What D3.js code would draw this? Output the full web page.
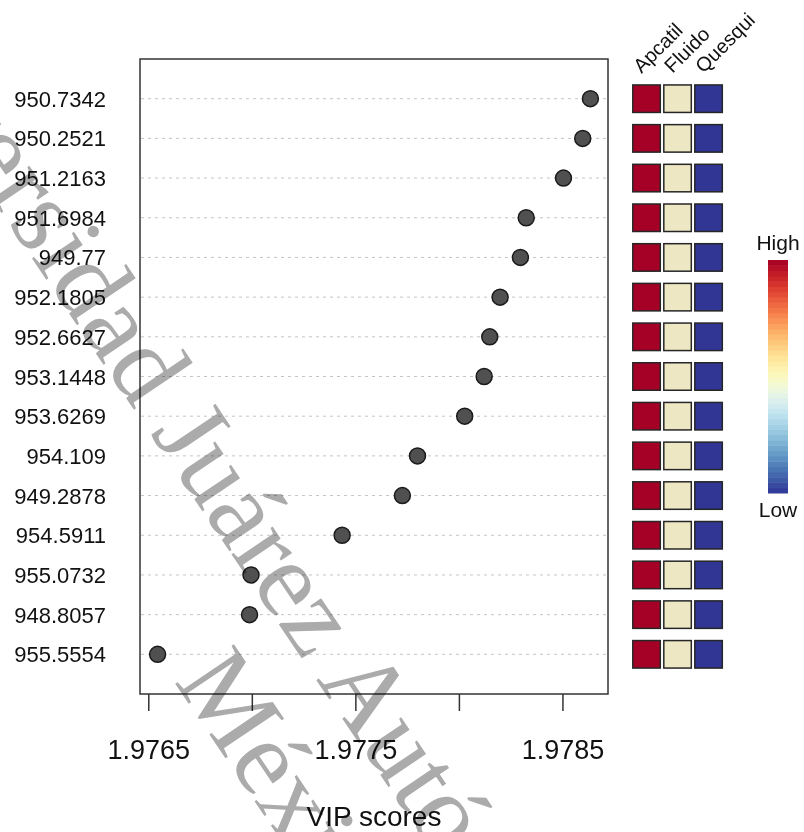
<!DOCTYPE html>
<html>
<head>
<meta charset="utf-8">
<script src="https://cdn.jsdelivr.net/npm/d3@7"></script>
<style>
  html, body { margin: 0; padding: 0; background: #fff; }
  svg { display: block; font-family: "Liberation Sans", Arial, sans-serif; }
</style>
</head>
<body>
<svg id="chart" width="804" height="832"></svg>
<script>
// Features, ordered from highest to lowest VIP score
const features = ["950.7342", "950.2521", "951.2163", "951.6984", "949.77",
  "952.1805", "952.6627", "953.1448", "953.6269", "954.109",
  "949.2878", "954.5911", "955.0732", "948.8057", "955.5554"];

const vipScores = [1.978635, 1.978598, 1.978505, 1.978325, 1.978297,
  1.978199, 1.978149, 1.978122, 1.978028, 1.977800,
  1.977727, 1.977436, 1.976996, 1.976989, 1.976545];

// Relative abundance in each group (1 = high, 0 = low)
const groups = ["Apcatil", "Fluido", "Quesqui"];
const apcatil = [1, 1, 1, 1, 1, 1, 1, 1, 1, 1, 1, 1, 1, 1, 1];
const fluido  = [0.5, 0.5, 0.5, 0.5, 0.5, 0.5, 0.5, 0.5, 0.5, 0.5, 0.5, 0.5, 0.5, 0.5, 0.5];
const quesqui = [0, 0, 0, 0, 0, 0, 0, 0, 0, 0, 0, 0, 0, 0, 0];

const xTicks = [1.9765, 1.9770, 1.9775, 1.9780, 1.9785];
const xTickLabels = ["1.9765", "", "1.9775", "", "1.9785"];

const svg = d3.select("#chart");

const box = { left: 140, right: 608, top: 59, bottom: 694 };

const x = d3.scaleLinear().domain([1.97646, 1.97872]).range([box.left, box.right]);
const y = d3.scaleLinear().domain([-1, features.length]).range([box.top, box.bottom]);

// Grid lines per feature
svg.append("g").selectAll("line").data(features).join("line")
  .attr("x1", box.left + 1).attr("x2", box.right - 1)
  .attr("y1", (d, i) => y(i)).attr("y2", (d, i) => y(i))
  .attr("stroke", "#c4c4c4").attr("stroke-width", 1)
  .attr("stroke-dasharray", "3,4");

// Plot frame
svg.append("rect")
  .attr("x", box.left).attr("y", box.top)
  .attr("width", box.right - box.left).attr("height", box.bottom - box.top)
  .attr("fill", "none").attr("stroke", "#333").attr("stroke-width", 1.5);

// X axis
const xAxis = d3.axisBottom(x).tickValues(xTicks)
  .tickFormat((d, i) => xTickLabels[i]).tickSize(17).tickPadding(29);
const gx = svg.append("g").attr("transform", `translate(0,${box.bottom})`).call(xAxis);
gx.select(".domain").remove();
gx.selectAll(".tick line").attr("stroke", "#333").attr("stroke-width", 1.5);
gx.selectAll(".tick text").attr("font-size", 27).attr("fill", "#111")
  .attr("font-family", "Liberation Sans, Arial, sans-serif");

// Y labels
svg.append("g").selectAll("text").data(features).join("text")
  .attr("x", 106).attr("y", (d, i) => y(i) + 8)
  .attr("text-anchor", "end").attr("font-size", 22).attr("fill", "#111")
  .text(d => d);

// Points
svg.append("g").selectAll("circle").data(vipScores).join("circle")
  .attr("cx", d => x(d)).attr("cy", (d, i) => y(i)).attr("r", 8)
  .attr("fill", "#505050").attr("stroke", "#1a1a1a").attr("stroke-width", 1.5);

// X label
svg.append("text").attr("x", (box.left + box.right) / 2).attr("y", 826)
  .attr("text-anchor", "middle").attr("font-size", 28).attr("fill", "#111")
  .text("VIP scores");

// Heat map of group abundance
const heatColor = d3.scaleLinear().domain([0, 0.5, 1])
  .range(["#313695", "#ede7c3", "#a50026"]);
const colX = d3.scaleBand().domain(groups).range([632.8, 722.3]).paddingInner(0.113);
const groupValues = [apcatil, fluido, quesqui];
const cell = colX.bandwidth();

const heat = svg.append("g");
groups.forEach((g, gi) => {
  heat.append("g").selectAll("rect").data(groupValues[gi]).join("rect")
    .attr("x", colX(g)).attr("y", (d, i) => y(i) - cell / 2)
    .attr("width", cell).attr("height", cell)
    .attr("fill", d => heatColor(d))
    .attr("stroke", "#262626").attr("stroke-width", 1.5);
});

// Group names, rotated
svg.append("g").selectAll("text").data(groups).join("text")
  .attr("transform", d => `translate(${colX(d) + cell / 2 - 5},74) rotate(-45)`)
  .attr("font-size", 20).attr("fill", "#111")
  .text(d => d);

// Color key
const key = { x: 768, w: 20, top: 260, bottom: 493 };
const nBands = 44;
const keyY = d3.scaleLinear().domain([0, nBands]).range([key.bottom, key.top]);
svg.append("g").selectAll("rect").data(d3.range(nBands)).join("rect")
  .attr("x", key.x).attr("width", key.w)
  .attr("y", d => keyY(d + 1)).attr("height", d => keyY(d) - keyY(d + 1) + 0.5)
  .attr("fill", d => d3.interpolateRdYlBu(1 - (d + 0.5) / nBands));
svg.append("text").attr("x", key.x + key.w / 2).attr("y", 250)
  .attr("text-anchor", "middle").attr("font-size", 21).attr("fill", "#111").text("High");
svg.append("text").attr("x", key.x + key.w / 2).attr("y", 517)
  .attr("text-anchor", "middle").attr("font-size", 21).attr("fill", "#111").text("Low");

// Institutional watermark
const wm = svg.append("g")
  .attr("transform", "translate(384,716) rotate(56)")
  .style("mix-blend-mode", "multiply")
  .attr("font-family", "Liberation Serif, Times New Roman, serif")
  .attr("font-size", 108).attr("fill", "#ababab").attr("text-anchor", "middle");
wm.append("text").attr("x", 0).attr("y", 36).text("Universidad Juárez Autónoma de Tabasco.");
wm.append("text").attr("x", 32).attr("y", 155).text("México.");
</script>
</body>
</html>
